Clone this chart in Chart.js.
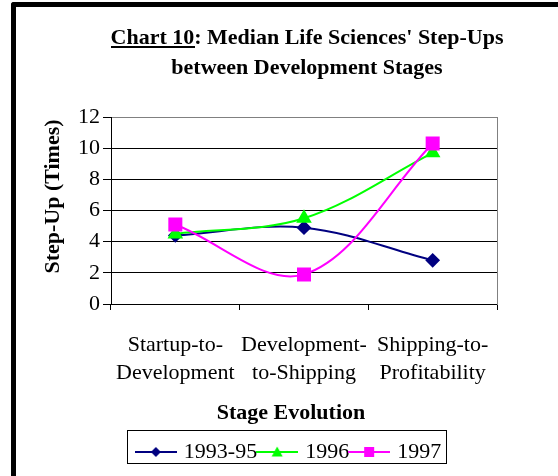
<!DOCTYPE html>
<html>
<head>
<meta charset="utf-8">
<script src="https://cdn.jsdelivr.net/npm/chart.js@4.4.1/dist/chart.umd.min.js"></script>
<style>
  html, body { margin: 0; padding: 0; background: #fff; overflow: hidden; }
  #wrap { position: relative; width: 558px; height: 476px; overflow: hidden; }
  #chart { position: absolute; left: 0; top: 0; }
  #frame { position: absolute; left: 11px; top: 2px; width: 620px; height: 520px;
           border-left: 5px solid #000; border-top: 5px solid #000;
           border-top-left-radius: 3px; pointer-events: none; }
</style>
</head>
<body>
<div id="wrap">
  <canvas id="chart" width="600" height="476"></canvas>
  <div id="frame"></div>
</div>
<script>
const titleLines = ["Chart 10: Median Life Sciences' Step-Ups", 'between Development Stages'];
const underlined = 'Chart 10';
const xTitle = 'Stage Evolution';
const yTitle = 'Step-Up (Times)';
const categories = [['Startup-to-', 'Development'], ['Development-', 'to-Shipping'], ['Shipping-to-', 'Profitability']];
const seriesNames = ['1993-95', '1996', '1997'];
const values1993 = [4.4, 4.9, 2.8];
const values1996 = [4.5, 5.5, 9.7];
const values1997 = [5.1, 1.9, 10.3];
const yTicks = [0, 2, 4, 6, 8, 10, 12];

const FONT = '"Liberation Serif", "Times New Roman", serif';
Chart.defaults.font.family = FONT;
Chart.defaults.font.size = 22;
Chart.defaults.color = '#000';

// little line+marker pictures for the legend
function swatch(color, shape) {
    const c = document.createElement('canvas');
    c.width = 42; c.height = 14;
    const g = c.getContext('2d');
    g.strokeStyle = color; g.lineWidth = 2;
    g.beginPath(); g.moveTo(0, 7); g.lineTo(42, 7); g.stroke();
    g.fillStyle = color;
    g.beginPath();
    if (shape === 'diamond') {
        g.moveTo(21, 2); g.lineTo(26, 7); g.lineTo(21, 12); g.lineTo(16, 7);
    } else if (shape === 'triangle') {
        g.moveTo(21, 1.5); g.lineTo(26.5, 11.5); g.lineTo(15.5, 11.5);
    } else {
        g.rect(16, 2, 10, 10);
    }
    g.closePath(); g.fill();
    return c;
}
const swatches = [swatch('#000080', 'diamond'), swatch('#00ff00', 'triangle'), swatch('#ff00ff', 'square')];

const decorations = {
    id: 'decorations',
    afterLayout(chart) {
        // excel put the legend a bit left of centre
        chart.legend.left -= 17;
        chart.legend.right -= 17;
    },
    afterDraw(chart) {
        const ctx = chart.ctx;
        const area = chart.chartArea;
        ctx.save();
        ctx.fillStyle = '#000';
        ctx.font = 'bold 22px ' + FONT;
        // underline under "Chart 10"
        const t = chart.titleBlock;
        const cx = (t.left + t.right) / 2;
        const w1 = ctx.measureText(titleLines[0]).width;
        const wu = ctx.measureText(underlined).width;
        const y1 = t.top + 23 + 15;
        ctx.fillRect(Math.round(cx - w1 / 2), Math.round(y1 + 8), Math.round(wu), 2);
        // axis titles, placed like excel did (a little off centre)
        ctx.textAlign = 'center';
        ctx.textBaseline = 'middle';
        ctx.fillText(xTitle, (area.left + area.right) / 2 - 13, 413);
        ctx.save();
        ctx.translate(53, (area.top + area.bottom) / 2 - 14);
        ctx.rotate(-Math.PI / 2);
        ctx.fillText(yTitle, 0, 0);
        ctx.restore();
        // box round the legend
        const hb = chart.legend.legendHitBoxes;
        if (hb && hb.length) {
            const l = Math.min(...hb.map(h => h.left)) - 12;
            const r = Math.max(...hb.map(h => h.left + h.width)) + 5;
            const top = hb[0].top - 11;
            const bot = hb[0].top + hb[0].height;
            ctx.strokeStyle = '#000'; ctx.lineWidth = 1;
            ctx.strokeRect(Math.round(l) + 0.5, Math.round(top) + 0.5, Math.round(r - l), Math.round(bot - top));
        }
        ctx.restore();
    }
};

new Chart(document.getElementById('chart'), {
    type: 'line',
    data: {
        labels: categories,
        datasets: [
            { label: seriesNames[0], data: values1993, order: 3, borderColor: '#000080', backgroundColor: '#000080',
              pointStyle: 'rectRot', pointRadius: 6, borderWidth: 2, tension: 0.35 },
            { label: seriesNames[1], data: values1996, order: 2, borderColor: '#00ff00', backgroundColor: '#00ff00',
              pointStyle: 'triangle', pointRadius: 7, borderWidth: 2, tension: 0.35 },
            { label: seriesNames[2], data: values1997, order: 1, borderColor: '#ff00ff', backgroundColor: '#ff00ff',
              pointStyle: 'rect', pointRadius: 8.5, borderWidth: 2, tension: 0.35 }
        ]
    },
    options: {
        responsive: false,
        animation: false,
        layout: { padding: { left: 14, right: 0, top: 0, bottom: 3 } },
        plugins: {
            tooltip: { enabled: false },
            title: {
                display: true,
                text: titleLines,
                color: '#000',
                font: { size: 22, weight: 'bold', lineHeight: 30 / 22 },
                padding: { top: 23, bottom: 34 }
            },
            legend: {
                position: 'bottom',
                labels: {
                    usePointStyle: true,
                    pointStyleWidth: 34,
                    padding: 3,
                    color: '#000',
                    font: { size: 22 },
                    generateLabels(chart) {
                        const items = Chart.defaults.plugins.legend.labels.generateLabels(chart);
                        items.sort((a, b) => a.datasetIndex - b.datasetIndex);
                        items.forEach(it => { it.pointStyle = swatches[it.datasetIndex]; it.rotation = 0; });
                        return items;
                    }
                }
            }
        },
        scales: {
            x: {
                offset: true,
                afterFit(scale) { scale.height = 134; },
                border: { color: '#000', width: 1 },
                grid: { drawOnChartArea: false, drawTicks: true, tickLength: 6, color: '#000', offset: true },
                ticks: { padding: 21, maxRotation: 0, autoSkip: false, color: '#000', font: { size: 22, lineHeight: 28 / 22 } }
            },
            y: {
                min: 0, max: 12,
                afterFit(scale) { scale.width = 97; },
                afterBuildTicks(scale) { scale.ticks = yTicks.map(v => ({ value: v })); },
                border: { color: '#000', width: 1 },
                grid: { color: ctx => (ctx.tick && ctx.tick.value === 12 ? '#808080' : '#000'), tickColor: '#000', tickLength: 8 },
                ticks: { padding: 3, autoSkip: false, color: '#000', font: { size: 22 } }
            },
            y2: {
                position: 'right',
                min: 0, max: 12,
                afterFit(scale) { scale.width = 103; },
                border: { color: '#808080', width: 1 },
                grid: { drawOnChartArea: false, drawTicks: false },
                ticks: { display: false }
            }
        }
    },
    plugins: [decorations]
});
</script>
</body>
</html>
